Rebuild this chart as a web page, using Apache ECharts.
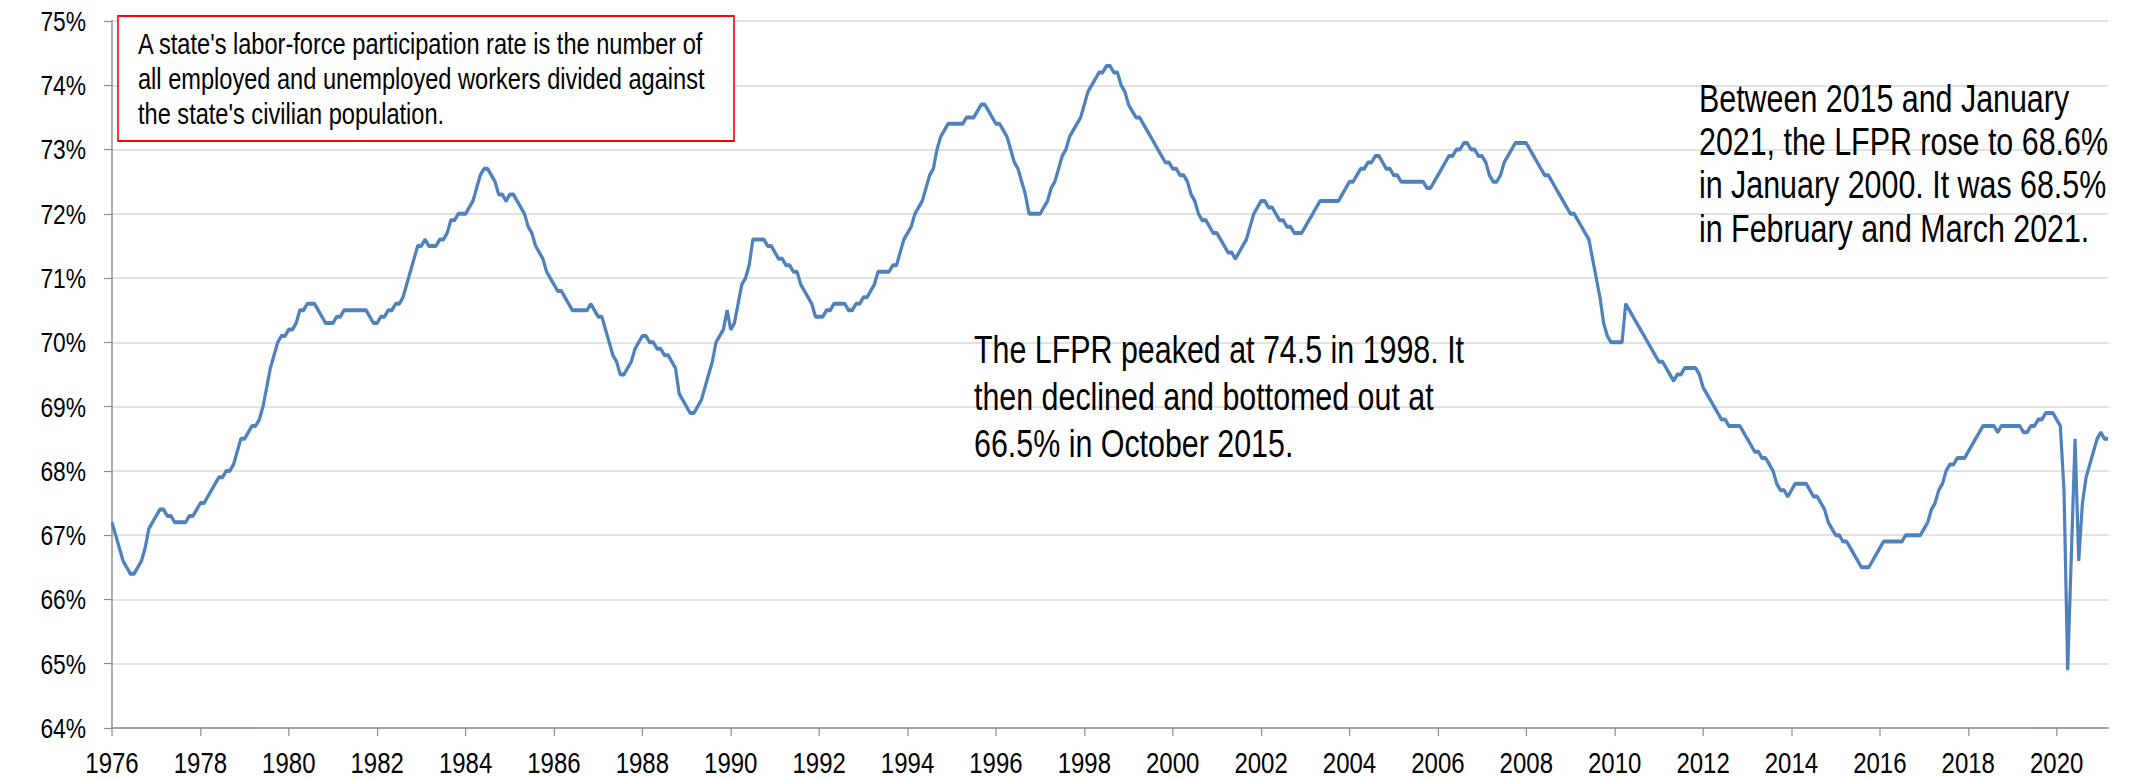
<!DOCTYPE html>
<html>
<head>
<meta charset="utf-8">
<script src="https://cdn.jsdelivr.net/npm/echarts@6/dist/echarts.min.js"></script>
<style>
html,body{margin:0;padding:0;background:#fff;overflow:hidden;}
#wrap{width:2131px;height:778px;overflow:hidden;position:relative;}
#chart{width:2663.75px;height:778px;transform:scaleX(0.8);transform-origin:0 0;position:absolute;left:0;top:0;}
</style>
</head>
<body>
<div id="wrap"><div id="chart"></div></div>
<script>
// Monthly labor-force participation rate (%), Jan 1976 - Mar 2021, one row per year
const startYear = 1976;
const lfpr = [
  67.2, 67.0, 66.8, 66.6, 66.5, 66.4, 66.4, 66.5, 66.6, 66.8, 67.1, 67.2, // 1976
  67.3, 67.4, 67.4, 67.3, 67.3, 67.2, 67.2, 67.2, 67.2, 67.3, 67.3, 67.4, // 1977
  67.5, 67.5, 67.6, 67.7, 67.8, 67.9, 67.9, 68.0, 68.0, 68.1, 68.3, 68.5, // 1978
  68.5, 68.6, 68.7, 68.7, 68.8, 69.0, 69.3, 69.6, 69.8, 70.0, 70.1, 70.1, // 1979
  70.2, 70.2, 70.3, 70.5, 70.5, 70.6, 70.6, 70.6, 70.5, 70.4, 70.3, 70.3, // 1980
  70.3, 70.4, 70.4, 70.5, 70.5, 70.5, 70.5, 70.5, 70.5, 70.5, 70.4, 70.3, // 1981
  70.3, 70.4, 70.4, 70.5, 70.5, 70.6, 70.6, 70.7, 70.9, 71.1, 71.3, 71.5, // 1982
  71.5, 71.6, 71.5, 71.5, 71.5, 71.6, 71.6, 71.7, 71.9, 71.9, 72.0, 72.0, // 1983
  72.0, 72.1, 72.2, 72.4, 72.6, 72.7, 72.7, 72.6, 72.5, 72.3, 72.3, 72.2, // 1984
  72.3, 72.3, 72.2, 72.1, 72.0, 71.8, 71.7, 71.5, 71.4, 71.3, 71.1, 71.0, // 1985
  70.9, 70.8, 70.8, 70.7, 70.6, 70.5, 70.5, 70.5, 70.5, 70.5, 70.6, 70.5, // 1986
  70.4, 70.4, 70.2, 70.0, 69.8, 69.7, 69.5, 69.5, 69.6, 69.7, 69.9, 70.0, // 1987
  70.1, 70.1, 70.0, 70.0, 69.9, 69.9, 69.8, 69.8, 69.7, 69.6, 69.2, 69.1, // 1988
  69.0, 68.9, 68.9, 69.0, 69.1, 69.3, 69.5, 69.7, 70.0, 70.1, 70.2, 70.5, // 1989
  70.2, 70.3, 70.6, 70.9, 71.0, 71.2, 71.6, 71.6, 71.6, 71.6, 71.5, 71.5, // 1990
  71.4, 71.3, 71.3, 71.2, 71.2, 71.1, 71.1, 70.9, 70.8, 70.7, 70.6, 70.4, // 1991
  70.4, 70.4, 70.5, 70.5, 70.6, 70.6, 70.6, 70.6, 70.5, 70.5, 70.6, 70.6, // 1992
  70.7, 70.7, 70.8, 70.9, 71.1, 71.1, 71.1, 71.1, 71.2, 71.2, 71.4, 71.6, // 1993
  71.7, 71.8, 72.0, 72.1, 72.2, 72.4, 72.6, 72.7, 73.0, 73.2, 73.3, 73.4, // 1994
  73.4, 73.4, 73.4, 73.4, 73.5, 73.5, 73.5, 73.6, 73.7, 73.7, 73.6, 73.5, // 1995
  73.4, 73.4, 73.3, 73.2, 73.0, 72.8, 72.7, 72.5, 72.3, 72.0, 72.0, 72.0, // 1996
  72.0, 72.1, 72.2, 72.4, 72.5, 72.7, 72.9, 73.0, 73.2, 73.3, 73.4, 73.5, // 1997
  73.7, 73.9, 74.0, 74.1, 74.2, 74.2, 74.3, 74.3, 74.2, 74.2, 74.0, 73.9, // 1998
  73.7, 73.6, 73.5, 73.5, 73.4, 73.3, 73.2, 73.1, 73.0, 72.9, 72.8, 72.8, // 1999
  72.7, 72.7, 72.6, 72.6, 72.5, 72.3, 72.2, 72.0, 71.9, 71.9, 71.8, 71.7, // 2000
  71.7, 71.6, 71.5, 71.4, 71.4, 71.3, 71.4, 71.5, 71.6, 71.8, 72.0, 72.1, // 2001
  72.2, 72.2, 72.1, 72.1, 72.0, 71.9, 71.9, 71.8, 71.8, 71.7, 71.7, 71.7, // 2002
  71.8, 71.9, 72.0, 72.1, 72.2, 72.2, 72.2, 72.2, 72.2, 72.2, 72.3, 72.4, // 2003
  72.5, 72.5, 72.6, 72.7, 72.7, 72.8, 72.8, 72.9, 72.9, 72.8, 72.7, 72.7, // 2004
  72.6, 72.6, 72.5, 72.5, 72.5, 72.5, 72.5, 72.5, 72.5, 72.4, 72.4, 72.5, // 2005
  72.6, 72.7, 72.8, 72.9, 72.9, 73.0, 73.0, 73.1, 73.1, 73.0, 73.0, 72.9, // 2006
  72.9, 72.8, 72.6, 72.5, 72.5, 72.6, 72.8, 72.9, 73.0, 73.1, 73.1, 73.1, // 2007
  73.1, 73.0, 72.9, 72.8, 72.7, 72.6, 72.6, 72.5, 72.4, 72.3, 72.2, 72.1, // 2008
  72.0, 72.0, 71.9, 71.8, 71.7, 71.6, 71.3, 71.0, 70.7, 70.3, 70.1, 70.0, // 2009
  70.0, 70.0, 70.0, 70.6, 70.5, 70.4, 70.3, 70.2, 70.1, 70.0, 69.9, 69.8, // 2010
  69.7, 69.7, 69.6, 69.5, 69.4, 69.5, 69.5, 69.6, 69.6, 69.6, 69.6, 69.5, // 2011
  69.3, 69.2, 69.1, 69.0, 68.9, 68.8, 68.8, 68.7, 68.7, 68.7, 68.7, 68.6, // 2012
  68.5, 68.4, 68.3, 68.3, 68.2, 68.2, 68.1, 68.0, 67.8, 67.7, 67.7, 67.6, // 2013
  67.7, 67.8, 67.8, 67.8, 67.8, 67.7, 67.6, 67.6, 67.5, 67.4, 67.2, 67.1, // 2014
  67.0, 67.0, 66.9, 66.9, 66.8, 66.7, 66.6, 66.5, 66.5, 66.5, 66.6, 66.7, // 2015
  66.8, 66.9, 66.9, 66.9, 66.9, 66.9, 66.9, 67.0, 67.0, 67.0, 67.0, 67.0, // 2016
  67.1, 67.2, 67.4, 67.5, 67.7, 67.8, 68.0, 68.1, 68.1, 68.2, 68.2, 68.2, // 2017
  68.3, 68.4, 68.5, 68.6, 68.7, 68.7, 68.7, 68.7, 68.6, 68.7, 68.7, 68.7, // 2018
  68.7, 68.7, 68.7, 68.6, 68.6, 68.7, 68.7, 68.8, 68.8, 68.9, 68.9, 68.9, // 2019
  68.8, 68.7, 67.7, 64.9, 66.7, 68.5, 66.6, 67.5, 67.9, 68.1, 68.3, 68.5, // 2020
  68.6, 68.5, 68.5                                                        // 2021
];
const months = lfpr.map((v, i) => {
  const y = startYear + Math.floor(i / 12);
  const m = (i % 12) + 1;
  return y + '-' + (m < 10 ? '0' + m : m);
});
const yTicks = { min: 64, max: 75, step: 1 };
const boxText = [
  "A state's labor-force participation rate is the number of",
  "all employed and unemployed workers divided against",
  "the state's civilian population."
];
const note1 = [
  "The LFPR peaked at 74.5 in 1998. It",
  "then declined and bottomed out at",
  "66.5% in October 2015."
];
const note2 = [
  "Between 2015 and January",
  "2021, the LFPR rose to 68.6%",
  "in January 2000. It was 68.5%",
  "in February and March 2021."
];

// The chart is drawn on a wider surface and squeezed horizontally (scaleX 0.8),
// which gives the tall, narrow lettering of the reference.
const SX = 0.8;
const px = (v) => v / SX;
const FONT = "'Liberation Sans', Arial, Helvetica, sans-serif";

const chart = echarts.init(document.getElementById('chart'), null, { renderer: 'svg' });
chart.setOption({
  animation: false,
  backgroundColor: '#ffffff',
  grid: { left: px(112), right: px(23), top: 21, bottom: 50, containLabel: false },
  xAxis: {
    type: 'category',
    data: months,
    boundaryGap: false,
    axisLine: { show: true, lineStyle: { color: '#8c8c8c', width: 1.5 } },
    axisTick: {
      show: true, length: 8, lineStyle: { color: '#8c8c8c', width: 1.5 },
      interval: (i) => i % 24 === 0
    },
    axisLabel: {
      interval: (i) => i % 24 === 0,
      formatter: (v) => v.slice(0, 4),
      fontFamily: FONT, fontSize: 30, color: '#000', margin: 19
    },
    splitLine: { show: false }
  },
  yAxis: {
    type: 'value',
    min: yTicks.min, max: yTicks.max, interval: yTicks.step,
    axisLine: { show: true, lineStyle: { color: '#8c8c8c', width: 1.8 } },
    axisTick: { show: true, length: px(8), lineStyle: { color: '#8c8c8c', width: 1.2 } },
    axisLabel: {
      formatter: '{value}%', fontFamily: FONT, fontSize: 28.5, color: '#000', margin: px(26)
    },
    splitLine: { show: true, lineStyle: { color: '#d9d9d9', width: 1.5 } }
  },
  series: [{
    type: 'line',
    data: lfpr,
    showSymbol: false,
    symbol: 'none',
    lineStyle: { color: '#4f81bd', width: 4 },
    itemStyle: { color: '#4f81bd' }
  }],
  graphic: [
    {
      type: 'rect', z: 10,
      shape: { x: px(118), y: 16, width: px(616), height: 125 },
      style: { fill: '#ffffff', stroke: '#ff0000', lineWidth: 2 }
    },
    {
      type: 'text', z: 11, x: px(138), y: 27,
      style: { text: boxText.join('\n'), fontFamily: FONT, fontSize: 29.5, lineHeight: 34.7, fill: '#000' }
    },
    {
      type: 'text', z: 11, x: px(974), y: 326,
      style: { text: note1.join('\n'), fontFamily: FONT, fontSize: 38, lineHeight: 47, fill: '#000' }
    },
    {
      type: 'text', z: 11, x: px(1699), y: 77,
      style: { text: note2.join('\n'), fontFamily: FONT, fontSize: 38, lineHeight: 43.3, fill: '#000' }
    }
  ]
});
</script>
</body>
</html>
